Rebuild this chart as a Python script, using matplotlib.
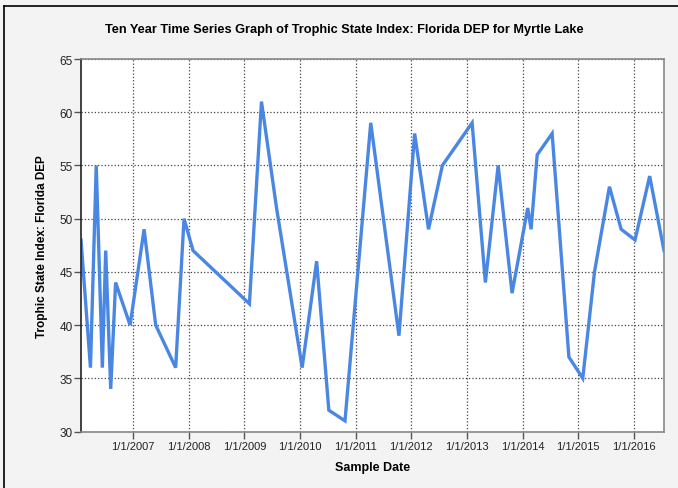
import matplotlib
matplotlib.use('Agg')
import matplotlib.pyplot as plt
import matplotlib.dates as mdates
from matplotlib.lines import Line2D
import pandas as pd

plt.rcParams['font.family'] = ['Liberation Sans', 'DejaVu Sans']

# sample dates and TSI values
dates = ['2006-01-25', '2006-03-28', '2006-05-05', '2006-06-14', '2006-07-06',
         '2006-08-08', '2006-09-09', '2006-12-13', '2007-03-15', '2007-05-30',
         '2007-10-08', '2007-12-02', '2008-01-30', '2009-02-03', '2009-04-23',
         '2009-07-31', '2010-01-15', '2010-04-20', '2010-07-09', '2010-10-23',
         '2011-04-10', '2011-10-12', '2012-01-23', '2012-04-23', '2012-07-23',
         '2013-02-03', '2013-05-01', '2013-07-24', '2013-10-23', '2014-02-03',
         '2014-02-25', '2014-04-06', '2014-07-13', '2014-10-31', '2015-01-30',
         '2015-04-17', '2015-07-24', '2015-10-09', '2016-01-08', '2016-04-13',
         '2016-07-16']
tsi = [48, 36, 55, 36, 47, 34, 44, 40, 49, 40, 36, 50, 47, 42, 61, 51, 36, 46,
       32, 31, 59, 39, 58, 49, 55, 59, 44, 55, 43, 51, 49, 56, 58, 37, 35, 45,
       53, 49, 48, 54, 47]
tick_years = list(range(2007, 2017))

dt = pd.to_datetime(dates)

fig = plt.figure(figsize=(6.78, 4.89), dpi=100, facecolor='#f3f3f3')
W, H = 678, 489
ax = fig.add_axes([81 / W, 1 - 432.5 / H, (664 - 81) / W, (432.5 - 60) / H])
ax.set_facecolor('white')

ax.plot(dt, tsi, color='#4a87e2', linewidth=2.4, solid_joinstyle='miter')

ax.set_xlim(dt[0], dt[-1])
ax.set_ylim(30, 65)
ax.set_yticks(range(30, 66, 5))
ax.set_xticks([pd.Timestamp(f'{y}-01-01') for y in tick_years])
ax.xaxis.set_major_formatter(mdates.DateFormatter('%-m/%-d/%Y'))

ax.grid(True, linestyle=':', color='#444444', linewidth=0.9)
ax.tick_params(axis='both', labelsize=8, length=5, width=1, color='#555555',
               labelcolor='#222222', pad=1)
ax.tick_params(axis='x', pad=2)
ax.tick_params(axis='y', labelsize=8.5)

for s in ['top', 'right', 'bottom']:
    ax.spines[s].set_color('#888888')
    ax.spines[s].set_linewidth(1.2)
ax.spines['left'].set_color('#222222')
ax.spines['left'].set_linewidth(1.2)

ax.set_xlabel('Sample Date', fontsize=9, fontweight='bold', labelpad=7)
ax.set_ylabel('Trophic State Index: Florida DEP', fontsize=8.5, fontweight='bold',
              labelpad=8)
fig.text(344 / W, 1 - 30 / H,
         'Ten Year Time Series Graph of Trophic State Index: Florida DEP for Myrtle Lake',
         ha='center', va='center', fontsize=9.2, fontweight='bold')

# outer frame lines on top and left
fig.add_artist(Line2D([4 / W, 1], [1 - 7 / H, 1 - 7 / H], color='black', linewidth=1.2))
fig.add_artist(Line2D([4 / W, 4 / W], [0, 1 - 7 / H], color='black', linewidth=1.2))

plt.savefig('out.png', dpi=100, facecolor=fig.get_facecolor())
